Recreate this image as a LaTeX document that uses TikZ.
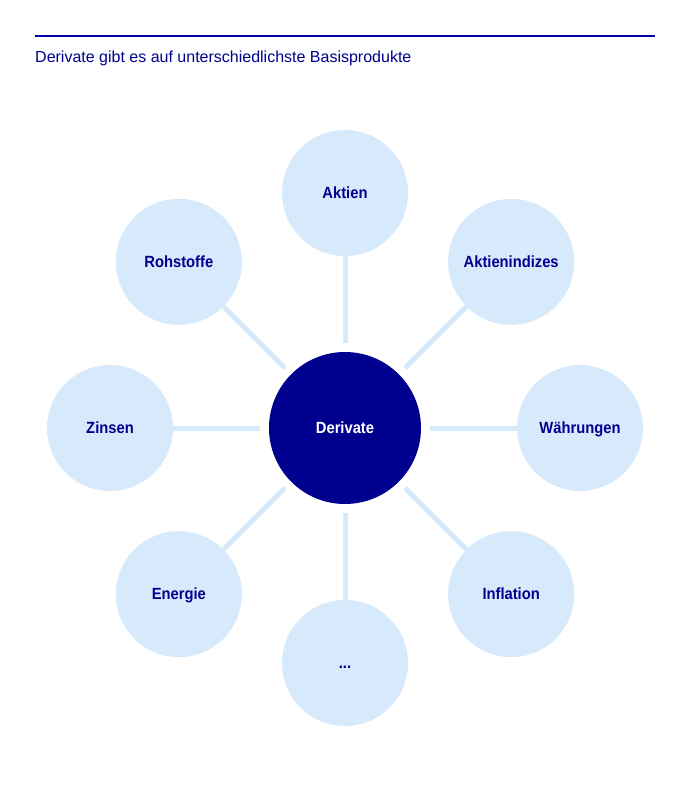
\documentclass[tikz,border=0pt]{standalone}
\usepackage{fontspec}
\setmainfont{Liberation Sans}
\newfontfamily\circfont{Liberation Sans}[FakeStretch=0.91]
\usepackage{tikz}
\usetikzlibrary{calc}

\definecolor{navyblue}{HTML}{00008F}
\definecolor{paleblue}{HTML}{D7EAFB}
\definecolor{rulecol}{HTML}{0000A8}

\begin{document}
\begin{tikzpicture}[
  x=1pt,
  y=-1pt,
]

  \tikzstyle{basenode}=[circle,fill=paleblue,minimum size=126pt,inner sep=0pt,outer sep=0pt,node distance=235pt,
    text=navyblue,font=\circfont\bfseries\fontsize{16.2}{18}\selectfont,text height=11.6pt,text depth=0pt]
  \tikzstyle{derivnode}=[circle,fill=navyblue,minimum size=152pt,inner sep=0pt,outer sep=0pt,
    text=white,font=\circfont\bfseries\fontsize{16.2}{18}\selectfont,text height=11.6pt,text depth=0pt]
  \tikzstyle{spoke}=[draw,paleblue,line width=5pt,shorten <=9pt]
  \tikzstyle{titletext}=[anchor=base west,inner sep=0pt,text=navyblue,font=\fontsize{16}{18}\selectfont]

  \useasboundingbox (0,0) rectangle (690,800);

  % title
  \coordinate (ruleL) at (35,36);
  \coordinate (ruleR) at (655,36);
  \draw[rulecol,line width=1.2pt] (ruleL) -- (ruleR);
  \node[titletext] (title) at (35,63) {Derivate gibt es auf unterschiedlichste Basisprodukte};

  % nodes
  \node[derivnode] (deriv) at (345,428) {Derivate};
  \node[basenode] (aktien)  [above of=deriv]       {Aktien};
  \node[basenode] (indizes) [above right of=deriv] {Aktienindizes};
  \node[basenode] (waehr)   [right of=deriv]       {Währungen};
  \node[basenode] (infl)    [below right of=deriv] {Inflation};
  \node[basenode] (dots)    [below of=deriv]       {...};
  \node[basenode] (energie) [below left of=deriv]  {Energie};
  \node[basenode] (zinsen)  [left of=deriv]        {Zinsen};
  \node[basenode] (rohst)   [above left of=deriv]  {Rohstoffe};

  % spokes
  \draw[spoke] (deriv) -- (aktien);
  \draw[spoke] (deriv) -- (indizes);
  \draw[spoke] (deriv) -- (waehr);
  \draw[spoke] (deriv) -- (infl);
  \draw[spoke] (deriv) -- (dots);
  \draw[spoke] (deriv) -- (energie);
  \draw[spoke] (deriv) -- (zinsen);
  \draw[spoke] (deriv) -- (rohst);

\end{tikzpicture}
\end{document}
